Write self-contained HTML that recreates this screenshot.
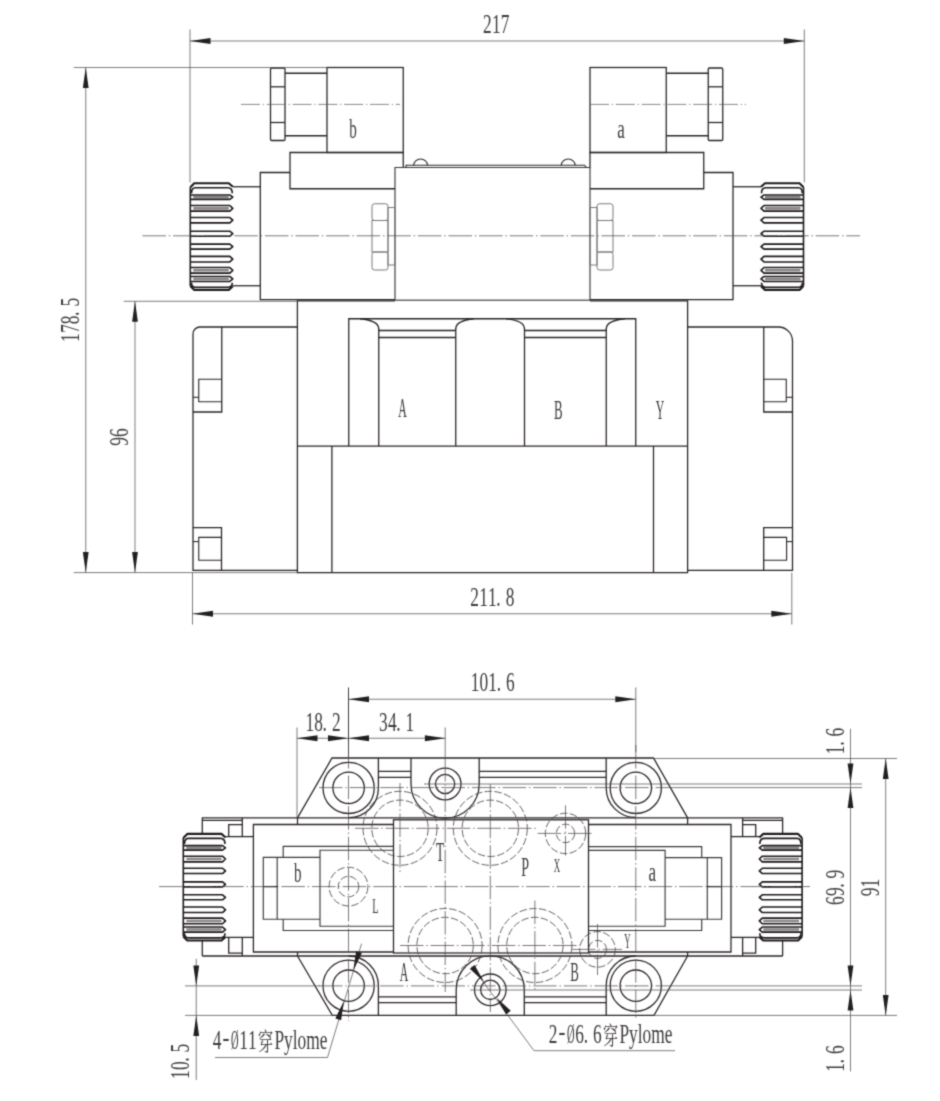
<!DOCTYPE html>
<html lang="zh">
<head>
<meta charset="utf-8">
<title>Valve dimension drawing</title>
<style>
html,body{margin:0;padding:0;background:#fff;}
body{width:940px;height:1101px;overflow:hidden;}
svg{display:block;}
.m{fill:none;stroke:#2b2526;stroke-width:1.28;}
.m2{fill:none;stroke:#2b2526;stroke-width:1.1;}
.k{fill:none;stroke:#1f1a1b;stroke-width:2.1;stroke-linejoin:round;}
.k2{fill:none;stroke:#1f1a1b;stroke-width:1.6;stroke-linejoin:round;}
.kg{fill:none;stroke:#8a8687;stroke-width:2.6;}
.g{fill:none;stroke:#7d797a;stroke-width:1;}
.d2{fill:none;stroke:#2b2526;stroke-width:0.9;}
.c2{fill:none;stroke:#5c5859;stroke-width:0.7;stroke-dasharray:19 2.8 1.2 2.8;}
.mg{fill:none;stroke:#6a6667;stroke-width:1.5;}
.mc{fill:none;stroke:#3c3839;stroke-width:1.15;}
.d{fill:none;stroke:#524e4f;stroke-width:0.74;}
.c{fill:none;stroke:#524e4f;stroke-width:0.76;stroke-dasharray:23.5 2.8 1.5 2.8;}
.h{fill:none;stroke:#4a4647;stroke-width:0.85;stroke-dasharray:7.5 2.4;}
.a{fill:#231f20;stroke:none;}
.t{font-family:"Liberation Serif","Noto Serif CJK SC",serif;fill:#403c3d;text-anchor:middle;}
</style>
</head>
<body>
<svg width="940" height="1101" viewBox="0 0 940 1101">
<defs><filter id="soft" x="0" y="0" width="940" height="1101" filterUnits="userSpaceOnUse" color-interpolation-filters="sRGB"><feConvolveMatrix order="3" kernelMatrix="0.0289 0.1122 0.0289 0.1122 0.4356 0.1122 0.0289 0.1122 0.0289" divisor="1" edgeMode="duplicate" preserveAlpha="true"/></filter></defs>
<g filter="url(#soft)">
<rect x="0" y="0" width="940" height="1101" fill="#ffffff"/>
<rect class="m" x="270.5" y="68" width="14.5" height="72.5" rx="1.2"/>
<line class="m" x1="270.5" y1="86.8" x2="285" y2="86.8"/>
<line class="m" x1="270.5" y1="122.5" x2="285" y2="122.5"/>
<line class="m" x1="285" y1="73.25" x2="327" y2="73.25"/>
<line class="m" x1="285" y1="135.75" x2="327" y2="135.75"/>
<rect class="m" x="327" y="67.5" width="76.25" height="85"/>
<rect class="m" x="708.25" y="68" width="14.5" height="72.5" rx="1.2"/>
<line class="m" x1="708.25" y1="86.8" x2="722.75" y2="86.8"/>
<line class="m" x1="708.25" y1="122.5" x2="722.75" y2="122.5"/>
<line class="m" x1="708.25" y1="73.25" x2="666.25" y2="73.25"/>
<line class="m" x1="708.25" y1="135.75" x2="666.25" y2="135.75"/>
<rect class="m" x="590" y="67.5" width="76.25" height="85"/>
<path class="m" d="M395,188.75 L290,188.75 L290,152.5 L403.25,152.5 L403.25,167.5"/>
<path class="m" d="M590,188.75 L703.75,188.75 L703.75,152.5 L590,152.5 L590,167.5"/>
<path class="m" d="M290,172.5 L260.3,172.5 L260.3,299.7 L395,299.7"/>
<path class="m" d="M703.75,172.5 L733,172.5 L733,299.7 L590,299.7"/>
<path class="mc" d="M395,300.2 L395,167.5 L590,167.5 L590,300.2"/>
<line class="mg" x1="395" y1="300.3" x2="590" y2="300.3"/>
<path class="m2" d="M406,167.5 L406,165.2 L584.5,165.2 L586.5,167.5"/>
<path class="m2" d="M413.7,165.2 A6.9,6.2 0 0 1 427.5,165.2"/>
<path class="m2" d="M561.3,165.2 A6.9,6.2 0 0 1 575.1,165.2"/>
<line class="m" x1="232.8" y1="186.75" x2="260.3" y2="186.75"/>
<line class="m" x1="733" y1="186.75" x2="761" y2="186.75"/>
<line class="m" x1="232.8" y1="285.75" x2="260.3" y2="285.75"/>
<line class="m" x1="733" y1="285.75" x2="761" y2="285.75"/>
<path class="k" d="M232.8,186.8 L228.8,183.2 L194.3,183.2 L190.3,187.2"/>
<path class="k" d="M232.8,286.3 L228.8,289.9 L194.3,289.9 L190.3,285.9"/>
<line class="k2" x1="190.3" y1="187.2" x2="190.3" y2="285.9"/>
<path class="k2" d="M191.5,193.23 Q191.5,187.68 195.3,187.68 L227.8,187.68 Q232.3,187.68 232.3,193.23"/>
<line class="kg" x1="193.3" y1="197.18" x2="228.8" y2="197.18"/>
<path class="k2" d="M190.3,194.94 L229.8,194.94 L232.8,197.18 L229.8,199.42 L190.3,199.42"/>
<line class="kg" x1="193.3" y1="208.33" x2="228.8" y2="208.33"/>
<path class="k2" d="M190.3,205.5 L229.8,205.5 L232.8,208.33 L229.8,211.16 L190.3,211.16"/>
<path class="k2" d="M190.3,217.56 L229.8,217.56 L232.8,220.22 L229.8,222.89 L190.3,222.89"/>
<path class="k2" d="M190.3,231.21 L229.8,231.21 L232.8,233.72 L229.8,236.23 L190.3,236.23"/>
<path class="k2" d="M190.3,244.13 L229.8,244.13 L232.8,246.63 L229.8,249.14 L190.3,249.14"/>
<path class="k2" d="M190.3,256.4 L229.8,256.4 L232.8,259.17 L229.8,261.94 L190.3,261.94"/>
<line class="kg" x1="193.3" y1="270.32" x2="228.8" y2="270.32"/>
<path class="k2" d="M190.3,267.49 L229.8,267.49 L232.8,270.32 L229.8,273.15 L190.3,273.15"/>
<line class="kg" x1="193.3" y1="278.96" x2="228.8" y2="278.96"/>
<path class="k2" d="M190.3,276.46 L229.8,276.46 L232.8,278.96 L229.8,281.47 L190.3,281.47"/>
<path class="k2" d="M191.5,282.64 Q191.5,287.23 195.3,287.23 L227.8,287.23 Q232.3,287.23 232.3,282.64"/>
<path class="k" d="M761,186.8 L765,183.2 L799.5,183.2 L803.5,187.2"/>
<path class="k" d="M761,286.3 L765,289.9 L799.5,289.9 L803.5,285.9"/>
<line class="k2" x1="803.5" y1="187.2" x2="803.5" y2="285.9"/>
<path class="k2" d="M802.3,193.23 Q802.3,187.68 798.5,187.68 L766,187.68 Q761.5,187.68 761.5,193.23"/>
<line class="kg" x1="800.5" y1="197.18" x2="765" y2="197.18"/>
<path class="k2" d="M803.5,194.94 L764,194.94 L761,197.18 L764,199.42 L803.5,199.42"/>
<line class="kg" x1="800.5" y1="208.33" x2="765" y2="208.33"/>
<path class="k2" d="M803.5,205.5 L764,205.5 L761,208.33 L764,211.16 L803.5,211.16"/>
<path class="k2" d="M803.5,217.56 L764,217.56 L761,220.22 L764,222.89 L803.5,222.89"/>
<path class="k2" d="M803.5,231.21 L764,231.21 L761,233.72 L764,236.23 L803.5,236.23"/>
<path class="k2" d="M803.5,244.13 L764,244.13 L761,246.63 L764,249.14 L803.5,249.14"/>
<path class="k2" d="M803.5,256.4 L764,256.4 L761,259.17 L764,261.94 L803.5,261.94"/>
<line class="kg" x1="800.5" y1="270.32" x2="765" y2="270.32"/>
<path class="k2" d="M803.5,267.49 L764,267.49 L761,270.32 L764,273.15 L803.5,273.15"/>
<line class="kg" x1="800.5" y1="278.96" x2="765" y2="278.96"/>
<path class="k2" d="M803.5,276.46 L764,276.46 L761,278.96 L764,281.47 L803.5,281.47"/>
<path class="k2" d="M802.3,282.64 Q802.3,287.23 798.5,287.23 L766,287.23 Q761.5,287.23 761.5,282.64"/>
<rect class="g" x="372" y="203.75" width="16" height="16.75" rx="2.5"/>
<rect class="g" x="372" y="252" width="16" height="18" rx="2.5"/>
<rect class="g" x="372" y="220.5" width="16" height="31.5"/>
<rect class="g" x="388" y="207.5" width="7" height="57.5"/>
<rect class="g" x="597" y="203.75" width="16" height="16.75" rx="2.5"/>
<rect class="g" x="597" y="252" width="16" height="18" rx="2.5"/>
<rect class="g" x="597" y="220.5" width="16" height="31.5"/>
<rect class="g" x="590" y="207.5" width="7" height="57.5"/>
<path class="m" d="M395,300.9 L297.4,300.9 L297.4,572.6 L687.6,572.6 L687.6,300.9 L590,300.9"/>
<line class="m" x1="297.4" y1="446.05" x2="687.6" y2="446.05"/>
<line class="m" x1="331.9" y1="446.05" x2="331.9" y2="572.6"/>
<line class="m" x1="653.5" y1="446.05" x2="653.5" y2="572.6"/>
<path class="m" d="M348.75,446.05 L348.75,318.75 L635.75,318.75 L635.75,446.05"/>
<line class="m" x1="378.75" y1="328.5" x2="378.75" y2="446.05"/>
<line class="m" x1="455.75" y1="328.5" x2="455.75" y2="446.05"/>
<line class="m" x1="524.5" y1="328.5" x2="524.5" y2="446.05"/>
<line class="m" x1="606.25" y1="328.5" x2="606.25" y2="446.05"/>
<line class="m" x1="378.75" y1="330.5" x2="455.75" y2="330.5"/>
<line class="m" x1="524.5" y1="330.5" x2="606.25" y2="330.5"/>
<line class="m" x1="378.75" y1="337.5" x2="455.75" y2="337.5"/>
<line class="m" x1="524.5" y1="337.5" x2="606.25" y2="337.5"/>
<path class="m" d="M360,318.75 Q378.75,320.5 378.75,329"/>
<path class="m" d="M455.75,329 Q455.75,320.5 474,318.75"/>
<path class="m" d="M506,318.75 Q524.5,320.5 524.5,329"/>
<path class="m" d="M606.25,329 Q606.25,320.5 625,318.75"/>
<path class="m" d="M297.4,327 L200,327 A7,7 0 0 0 193,334 L193,570.3 L297.4,570.3"/>
<path class="m" d="M221.75,327 L221.75,412 L193,412"/>
<path class="m2" d="M221.75,379.3 L198.75,379.3 L198.75,401.8 L221.75,401.8"/>
<line class="m2" x1="193" y1="397.3" x2="198.75" y2="397.3"/>
<path class="m" d="M193,527.6 L221.5,527.6 L221.5,570.3"/>
<path class="m2" d="M221.5,537.4 L198.75,537.4 L198.75,560.2 L221.5,560.2"/>
<line class="m2" x1="193" y1="541.6" x2="198.75" y2="541.6"/>
<path class="m" d="M687.6,327 L778.5,327 A14,14 0 0 1 792.5,341 L792.5,570.3 L687.6,570.3"/>
<path class="m" d="M763.75,327 L763.75,412 L792.5,412"/>
<path class="m2" d="M763.75,379.3 L786.25,379.3 L786.25,401.8 L763.75,401.8"/>
<line class="m2" x1="786.25" y1="397.3" x2="792.5" y2="397.3"/>
<path class="m" d="M792.5,527.6 L763.7,527.6 L763.7,570.3"/>
<path class="m2" d="M763.7,537.4 L786.6,537.4 L786.6,560.2 L763.7,560.2"/>
<line class="m2" x1="786.6" y1="541.6" x2="792.5" y2="541.6"/>
<line class="c" x1="142.5" y1="235.8" x2="860" y2="235.8"/>
<line class="c2" x1="241" y1="104.4" x2="400" y2="104.4"/>
<line class="c2" x1="590" y1="104.4" x2="746" y2="104.4"/>
<line class="d" x1="190" y1="29.5" x2="190" y2="182.4"/>
<line class="d" x1="804.3" y1="29.5" x2="804.3" y2="182.4"/>
<line class="d" x1="190" y1="41" x2="804.3" y2="41"/>
<polygon class="a" points="190,41 210.5,38.1 210.5,43.9"/>
<polygon class="a" points="804.3,41 783.8,43.9 783.8,38.1"/>
<text class="t" font-size="28" transform="translate(483 33.4) scale(0.62 1)" x="7.12 21.36 35.6" y="0">217</text>
<line class="d" x1="73.75" y1="67.5" x2="327" y2="67.5"/>
<line class="d" x1="73.75" y1="572.6" x2="297.4" y2="572.6"/>
<line class="d" x1="85.75" y1="67.5" x2="85.75" y2="572.6"/>
<polygon class="a" points="85.75,67.5 88.65,88 82.85,88"/>
<polygon class="a" points="85.75,572.6 82.85,552.1 88.65,552.1"/>
<text class="t" font-size="28" transform="translate(78.8 342) rotate(-90) scale(0.62 1)" x="7.12 21.36 35.6 45.52 64.08" y="0">178.5</text>
<line class="d" x1="123.75" y1="301.3" x2="297.4" y2="301.3"/>
<line class="d" x1="135" y1="301.3" x2="135" y2="572.6"/>
<polygon class="a" points="135,301.3 137.9,321.8 132.1,321.8"/>
<polygon class="a" points="135,572.6 132.1,552.1 137.9,552.1"/>
<text class="t" font-size="28" transform="translate(127.6 445.8) rotate(-90) scale(0.62 1)" x="7.12 21.36" y="0">96</text>
<line class="d" x1="192.5" y1="572.6" x2="192.5" y2="624.5"/>
<line class="d" x1="791.8" y1="572.6" x2="791.8" y2="624.5"/>
<line class="d" x1="192.5" y1="613.75" x2="791.8" y2="613.75"/>
<polygon class="a" points="192.5,613.75 213,610.85 213,616.65"/>
<polygon class="a" points="791.8,613.75 771.3,616.65 771.3,610.85"/>
<text class="t" font-size="28" transform="translate(470.3 606.3) scale(0.62 1)" x="7.12 21.36 35.6 45.52 64.08" y="0">211.8</text>
<text class="t" font-size="27.5" transform="translate(353 137.5) scale(0.55 1)" x="0" y="0">b</text>
<text class="t" font-size="27.5" transform="translate(621 137.5) scale(0.62 1)" x="0" y="0">a</text>
<text class="t" font-size="27.5" transform="translate(402.5 417.4) scale(0.43 1)" x="0" y="0">A</text>
<text class="t" font-size="27.5" transform="translate(558.3 419) scale(0.47 1)" x="0" y="0">B</text>
<text class="t" font-size="27.5" transform="translate(660 419) scale(0.43 1)" x="0" y="0">Y</text>
<path class="m" d="M297.5,817.9 L332,758 L653.5,758 L687.6,817.9"/>
<path class="m" d="M297.5,956 L332.3,1015.4 L654,1015.4 L687.6,956"/>
<circle class="m" cx="348.6" cy="787.9" r="25.6"/>
<circle class="m" cx="348.6" cy="787.9" r="15.7"/>
<circle class="m" cx="348.6" cy="985.7" r="25.6"/>
<circle class="m" cx="348.6" cy="985.7" r="15.7"/>
<circle class="m" cx="635.8" cy="787.9" r="25.6"/>
<circle class="m" cx="635.8" cy="787.9" r="15.7"/>
<circle class="m" cx="635.8" cy="985.7" r="25.6"/>
<circle class="m" cx="635.8" cy="985.7" r="15.7"/>
<path class="m" d="M378.4,758 L378.4,787.9 A29.8,29.8 0 0 1 348.6,817.7"/>
<path class="m" d="M606.2,758 L606.2,787.9 A29.6,29.6 0 0 0 635.8,817.5"/>
<path class="m" d="M378.4,1015.4 L378.4,985.8 A29.8,29.8 0 0 0 348.6,956"/>
<path class="m" d="M606.2,1015.4 L606.2,985.9 A29.6,29.6 0 0 1 635.8,956"/>
<line class="m" x1="378.2" y1="771.3" x2="411" y2="771.3"/>
<line class="m" x1="479.2" y1="771.3" x2="606.2" y2="771.3"/>
<line class="m" x1="378.2" y1="777.3" x2="411" y2="777.3"/>
<line class="m" x1="479.2" y1="777.3" x2="606.2" y2="777.3"/>
<line class="m" x1="378.2" y1="996.8" x2="456.2" y2="996.8"/>
<line class="m" x1="524.3" y1="996.8" x2="606.2" y2="996.8"/>
<line class="m" x1="378.2" y1="1002.6" x2="456.2" y2="1002.6"/>
<line class="m" x1="524.3" y1="1002.6" x2="606.2" y2="1002.6"/>
<path class="m" d="M411,758 L411,784 A34.1,34.1 0 0 0 479.2,784 L479.2,758"/>
<path class="m" d="M456.2,1015.4 L456.2,989.8 A34.05,34.05 0 0 1 524.3,989.8 L524.3,1015.4"/>
<circle class="m" cx="445.1" cy="784" r="15.9"/>
<circle class="m" cx="445.1" cy="784" r="9.6"/>
<circle class="m" cx="490.3" cy="989.8" r="15.8"/>
<circle class="m" cx="490.3" cy="989.8" r="9.7"/>
<line class="m" x1="202.3" y1="817.8" x2="782.6" y2="817.8"/>
<line class="m" x1="202.3" y1="956" x2="782.6" y2="956"/>
<line class="m" x1="202.3" y1="817.5" x2="202.3" y2="833.5"/>
<line class="m" x1="202.3" y1="941" x2="202.3" y2="956"/>
<line class="m" x1="782.6" y1="817.5" x2="782.6" y2="833.5"/>
<line class="m" x1="782.6" y1="941" x2="782.6" y2="956"/>
<line class="m2" x1="202.3" y1="820.4" x2="242.3" y2="820.4"/>
<line class="m2" x1="742.6" y1="820.4" x2="782.6" y2="820.4"/>
<line class="m" x1="242.3" y1="817.8" x2="242.3" y2="836.6"/>
<line class="m" x1="242.3" y1="937.4" x2="242.3" y2="956"/>
<line class="m" x1="742.6" y1="817.8" x2="742.6" y2="836.6"/>
<line class="m" x1="742.6" y1="937.4" x2="742.6" y2="956"/>
<path class="m" d="M242.3,824.7 L228.7,824.7 L228.7,836.6"/>
<path class="m" d="M242.3,953.2 L228.7,953.2 L228.7,937.4"/>
<path class="m" d="M742.6,824.7 L755.7,824.7 L755.7,836.6"/>
<path class="m" d="M742.6,953.2 L755.7,953.2 L755.7,937.4"/>
<line class="m" x1="225.3" y1="836.6" x2="253.4" y2="836.6"/>
<line class="m" x1="225.3" y1="937.4" x2="253.4" y2="937.4"/>
<line class="m" x1="731" y1="836.6" x2="759.3" y2="836.6"/>
<line class="m" x1="731" y1="937.4" x2="759.3" y2="937.4"/>
<path class="m" d="M393.5,824.5 L253.4,824.5 L253.4,952 L393.5,952"/>
<path class="m" d="M588.5,824.5 L731,824.5 L731,952 L588.5,952"/>
<line class="m" x1="687.6" y1="817.5" x2="687.6" y2="824.5"/>
<line class="m" x1="687.6" y1="952" x2="687.6" y2="956"/>
<line class="m" x1="297.5" y1="817.5" x2="297.5" y2="824.5"/>
<line class="m" x1="297.5" y1="952" x2="297.5" y2="956"/>
<rect class="m" x="393.5" y="819.8" width="195" height="133.2"/>
<path class="mc" d="M393.5,846.3 L283.2,846.3 L283.2,857.4 M283.2,919.2 L283.2,930.5 L393.5,930.5"/>
<path class="mc" d="M393.5,850.2 L320,850.2 L320,926.2 L393.5,926.2"/>
<path class="mc" d="M320,857.4 L263.3,857.4 L263.3,919.2 L320,919.2"/>
<line class="mc" x1="277.2" y1="857.4" x2="277.2" y2="919.2"/>
<line class="m" x1="263.3" y1="886.6" x2="277.2" y2="886.6"/>
<path class="mc" d="M588.5,846.6 L701.7,846.6 L701.7,857.6 M701.7,919.2 L701.7,930.5 L588.5,930.5"/>
<path class="mc" d="M588.5,850.4 L665.1,850.4 L665.1,926.2 L588.5,926.2"/>
<path class="mc" d="M665.1,857.6 L721.6,857.6 L721.6,919.2 L665.1,919.2"/>
<line class="mc" x1="707.3" y1="857.6" x2="707.3" y2="919.2"/>
<line class="m" x1="707.3" y1="886.6" x2="721.6" y2="886.6"/>
<path class="k" d="M225.5,837.5 L221.5,833.9 L187.3,833.9 L183.3,837.9"/>
<path class="k" d="M225.5,936.9 L221.5,940.5 L187.3,940.5 L183.3,936.5"/>
<line class="k2" x1="183.3" y1="837.9" x2="183.3" y2="936.5"/>
<path class="k2" d="M184.5,843.92 Q184.5,838.38 188.3,838.38 L220.5,838.38 Q225,838.38 225,843.92"/>
<line class="kg" x1="186.3" y1="847.86" x2="221.5" y2="847.86"/>
<path class="k2" d="M183.3,845.63 L222.5,845.63 L225.5,847.86 L222.5,850.1 L183.3,850.1"/>
<line class="kg" x1="186.3" y1="859" x2="221.5" y2="859"/>
<path class="k2" d="M183.3,856.18 L222.5,856.18 L225.5,859 L222.5,861.83 L183.3,861.83"/>
<path class="k2" d="M183.3,868.23 L222.5,868.23 L225.5,870.89 L222.5,873.56 L183.3,873.56"/>
<path class="k2" d="M183.3,881.87 L222.5,881.87 L225.5,884.38 L222.5,886.88 L183.3,886.88"/>
<path class="k2" d="M183.3,894.77 L222.5,894.77 L225.5,897.27 L222.5,899.78 L183.3,899.78"/>
<path class="k2" d="M183.3,907.03 L222.5,907.03 L225.5,909.8 L222.5,912.57 L183.3,912.57"/>
<line class="kg" x1="186.3" y1="920.94" x2="221.5" y2="920.94"/>
<path class="k2" d="M183.3,918.11 L222.5,918.11 L225.5,920.94 L222.5,923.76 L183.3,923.76"/>
<line class="kg" x1="186.3" y1="929.57" x2="221.5" y2="929.57"/>
<path class="k2" d="M183.3,927.07 L222.5,927.07 L225.5,929.57 L222.5,932.08 L183.3,932.08"/>
<path class="k2" d="M184.5,933.25 Q184.5,937.84 188.3,937.84 L220.5,937.84 Q225,937.84 225,933.25"/>
<path class="k" d="M759.3,837.5 L763.3,833.9 L798.1,833.9 L802.1,837.9"/>
<path class="k" d="M759.3,936.9 L763.3,940.5 L798.1,940.5 L802.1,936.5"/>
<line class="k2" x1="802.1" y1="837.9" x2="802.1" y2="936.5"/>
<path class="k2" d="M800.9,843.92 Q800.9,838.38 797.1,838.38 L764.3,838.38 Q759.8,838.38 759.8,843.92"/>
<line class="kg" x1="799.1" y1="847.86" x2="763.3" y2="847.86"/>
<path class="k2" d="M802.1,845.63 L762.3,845.63 L759.3,847.86 L762.3,850.1 L802.1,850.1"/>
<line class="kg" x1="799.1" y1="859" x2="763.3" y2="859"/>
<path class="k2" d="M802.1,856.18 L762.3,856.18 L759.3,859 L762.3,861.83 L802.1,861.83"/>
<path class="k2" d="M802.1,868.23 L762.3,868.23 L759.3,870.89 L762.3,873.56 L802.1,873.56"/>
<path class="k2" d="M802.1,881.87 L762.3,881.87 L759.3,884.38 L762.3,886.88 L802.1,886.88"/>
<path class="k2" d="M802.1,894.77 L762.3,894.77 L759.3,897.27 L762.3,899.78 L802.1,899.78"/>
<path class="k2" d="M802.1,907.03 L762.3,907.03 L759.3,909.8 L762.3,912.57 L802.1,912.57"/>
<line class="kg" x1="799.1" y1="920.94" x2="763.3" y2="920.94"/>
<path class="k2" d="M802.1,918.11 L762.3,918.11 L759.3,920.94 L762.3,923.76 L802.1,923.76"/>
<line class="kg" x1="799.1" y1="929.57" x2="763.3" y2="929.57"/>
<path class="k2" d="M802.1,927.07 L762.3,927.07 L759.3,929.57 L762.3,932.08 L802.1,932.08"/>
<path class="k2" d="M800.9,933.25 Q800.9,937.84 797.1,937.84 L764.3,937.84 Q759.8,937.84 759.8,933.25"/>
<circle class="h" cx="400" cy="828.3" r="37"/>
<circle class="h" cx="400" cy="828.3" r="28.2"/>
<circle class="h" cx="490.3" cy="828.3" r="37"/>
<circle class="h" cx="490.3" cy="828.3" r="28.2"/>
<circle class="h" cx="445.1" cy="945.5" r="37"/>
<circle class="h" cx="445.1" cy="945.5" r="28.2"/>
<circle class="h" cx="534.9" cy="945.5" r="37"/>
<circle class="h" cx="534.9" cy="945.5" r="28.2"/>
<circle class="h" cx="348.5" cy="886.6" r="19.4"/>
<circle class="h" cx="348.5" cy="886.6" r="10.3"/>
<circle class="h" cx="565.5" cy="833.4" r="20.2"/>
<circle class="h" cx="565.5" cy="833.4" r="9.2"/>
<circle class="h" cx="597.5" cy="949.4" r="17.8"/>
<circle class="h" cx="597.5" cy="949.4" r="9"/>
<line class="c" x1="159" y1="886.6" x2="810" y2="886.6"/>
<line class="d2" x1="348.5" y1="687.5" x2="348.5" y2="758"/>
<line class="c" x1="348.5" y1="745" x2="348.5" y2="1021"/>
<line class="d" x1="635.8" y1="687.5" x2="635.8" y2="752"/>
<line class="c" x1="635.8" y1="745" x2="635.8" y2="1019"/>
<line class="d" x1="445.2" y1="727.5" x2="445.2" y2="758"/>
<line class="c" x1="445.2" y1="758" x2="445.2" y2="992"/>
<line class="c" x1="490.3" y1="784" x2="490.3" y2="1012"/>
<line class="c" x1="400" y1="783" x2="400" y2="872.5"/>
<line class="c" x1="534.9" y1="900.5" x2="534.9" y2="992"/>
<line class="c" x1="355" y1="828.3" x2="536" y2="828.3"/>
<line class="c" x1="400" y1="945.5" x2="580" y2="945.5"/>
<line class="c" x1="565.5" y1="805.3" x2="565.5" y2="855.5"/>
<line class="c" x1="537.5" y1="833.4" x2="593.6" y2="833.4"/>
<line class="c" x1="597.5" y1="924" x2="597.5" y2="975"/>
<line class="c" x1="572" y1="949.4" x2="622" y2="949.4"/>
<line class="c" x1="319" y1="787.6" x2="672" y2="787.6"/>
<line class="d" x1="672" y1="787.6" x2="862" y2="787.6"/>
<line class="d" x1="424" y1="784" x2="862" y2="784"/>
<line class="d" x1="185" y1="985.9" x2="320" y2="985.9"/>
<line class="c" x1="319" y1="985.9" x2="672" y2="985.9"/>
<line class="d" x1="672" y1="985.9" x2="862" y2="985.9"/>
<line class="d" x1="470" y1="990" x2="862" y2="990"/>
<line class="d" x1="653.5" y1="758.5" x2="897" y2="758.5"/>
<line class="d" x1="654.5" y1="1015.4" x2="897" y2="1015.4"/>
<line class="d" x1="185" y1="1015.4" x2="333.75" y2="1015.4"/>
<line class="d" x1="297" y1="727.5" x2="297" y2="817.5"/>
<line class="d" x1="348.5" y1="699.25" x2="635.8" y2="699.25"/>
<polygon class="a" points="348.5,699.25 369,696.35 369,702.15"/>
<polygon class="a" points="635.8,699.25 615.3,702.15 615.3,696.35"/>
<text class="t" font-size="28" transform="translate(470.6 691.3) scale(0.62 1)" x="7.12 21.36 35.6 45.52 64.08" y="0">101.6</text>
<line class="d" x1="297" y1="738.25" x2="445.4" y2="738.25"/>
<polygon class="a" points="297,738.25 317.5,735.35 317.5,741.15"/>
<polygon class="a" points="348.5,738.25 328,741.15 328,735.35"/>
<polygon class="a" points="348.5,738.25 369,735.35 369,741.15"/>
<polygon class="a" points="445.4,738.25 424.9,741.15 424.9,735.35"/>
<text class="t" font-size="28" transform="translate(305.4 731) scale(0.62 1)" x="7.12 21.36 31.28 49.84" y="0">18.2</text>
<text class="t" font-size="28" transform="translate(379 731) scale(0.62 1)" x="7.12 21.36 31.28 49.84" y="0">34.1</text>
<line class="d" x1="850.5" y1="728.75" x2="850.5" y2="1071.5"/>
<polygon class="a" points="850.5,784 847.6,763.5 853.4,763.5"/>
<polygon class="a" points="850.5,787.6 853.4,808.1 847.6,808.1"/>
<polygon class="a" points="850.5,985.9 847.6,965.4 853.4,965.4"/>
<polygon class="a" points="850.5,990 853.4,1010.5 847.6,1010.5"/>
<line class="d" x1="885.7" y1="758.5" x2="885.7" y2="1015.4"/>
<polygon class="a" points="885.7,758.5 888.6,779 882.8,779"/>
<polygon class="a" points="885.7,1015.4 882.8,994.9 888.6,994.9"/>
<text class="t" font-size="28" transform="translate(843.6 754.2) rotate(-90) scale(0.62 1)" x="7.12 17.04 35.6" y="0">1.6</text>
<text class="t" font-size="28" transform="translate(843.6 905) rotate(-90) scale(0.62 1)" x="7.12 21.36 31.28 49.84" y="0">69.9</text>
<text class="t" font-size="28" transform="translate(878.6 896.3) rotate(-90) scale(0.62 1)" x="7.12 21.36" y="0">91</text>
<text class="t" font-size="28" transform="translate(843.6 1071.8) rotate(-90) scale(0.62 1)" x="7.12 17.04 35.6" y="0">1.6</text>
<line class="d" x1="196.25" y1="958.75" x2="196.25" y2="1080"/>
<polygon class="a" points="196.25,985.9 193.35,965.4 199.15,965.4"/>
<polygon class="a" points="196.25,1015.4 199.15,1035.9 193.35,1035.9"/>
<text class="t" font-size="28" transform="translate(188.6 1079) rotate(-90) scale(0.62 1)" x="7.12 21.36 31.28 49.84" y="0">10.5</text>
<path class="d" d="M215,1057.5 L327.5,1057.5 L361.56,943.65"/>
<polygon class="a" points="353.23,970.7 356.1,951.18 361.84,952.95"/>
<polygon class="a" points="343.97,1000.7 341.1,1020.22 335.36,1018.45"/>
<text class="t" font-size="28" transform="translate(212.7 1049.2) scale(0.62 1)" x="7.12 21.36 35.6 49.84 64.08 85.44 142.4" y="0">4<tspan textLength="11.2" lengthAdjust="spacingAndGlyphs" dy="-3">-</tspan><tspan textLength="12.16" lengthAdjust="spacingAndGlyphs" dy="3">Ø</tspan>11<tspan font-size="24.5" dy="1.6">穿</tspan><tspan dy="-1.6">Pylome</tspan></text>
<path class="d" d="M471.7,966.28 L534,1050.7 L675,1050.7"/>
<polygon class="a" points="484.29,982.2 469.84,968.76 474.54,965.04"/>
<polygon class="a" points="496.31,997.4 510.76,1010.84 506.06,1014.56"/>
<text class="t" font-size="28" transform="translate(548.8 1043) scale(0.62 1)" x="7.12 21.36 35.6 49.84 59.76 78.32 99.68 156.64" y="0">2<tspan textLength="11.2" lengthAdjust="spacingAndGlyphs" dy="-3">-</tspan><tspan textLength="12.16" lengthAdjust="spacingAndGlyphs" dy="3">Ø</tspan>6.6<tspan font-size="24.5" dy="1.6">穿</tspan><tspan dy="-1.6">Pylome</tspan></text>
<text class="t" font-size="27.5" transform="translate(297.7 881.5) scale(0.55 1)" x="0" y="0">b</text>
<text class="t" font-size="27.5" transform="translate(652.3 881.3) scale(0.62 1)" x="0" y="0">a</text>
<text class="t" font-size="27.5" transform="translate(440 860.7) scale(0.49 1)" x="0" y="0">T</text>
<text class="t" font-size="27.5" transform="translate(525.2 875.6) scale(0.51 1)" x="0" y="0">P</text>
<text class="t" font-size="27.5" transform="translate(403.9 980.8) scale(0.43 1)" x="0" y="0">A</text>
<text class="t" font-size="27.5" transform="translate(574.5 980.8) scale(0.47 1)" x="0" y="0">B</text>
<text class="t" font-size="20" transform="translate(375.3 913.4) scale(0.52 1)" x="0" y="0">L</text>
<text class="t" font-size="19" transform="translate(557 871.7) scale(0.47 1)" x="0" y="0">X</text>
<text class="t" font-size="20" transform="translate(627.5 948) scale(0.44 1)" x="0" y="0">Y</text>
</g>
</svg>
</body>
</html>
